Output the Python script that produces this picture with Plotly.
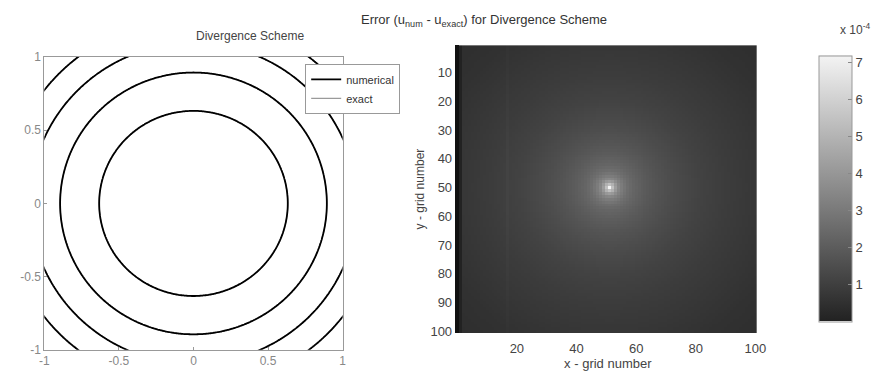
import numpy as np
import plotly.graph_objects as go

# ---- data ----
# left panel: contour levels of u (levels where circles appear, u = r^2)
contour_levels = [0.4, 0.8, 1.2, 1.6]
axis_ticks = [-1, -0.5, 0, 0.5, 1]
axis_ticktext = ["-1", "-0.5", "0", "0.5", "1"]

# right panel: radial profile of the error (distance from centre in grid cells -> error)
err_radius = [0, 1, 2, 3, 4, 6, 8, 12, 16, 20, 25, 30, 35, 40, 50, 60, 72]
err_value = [7.2, 5.4, 4.2, 3.5, 3.1, 2.6, 2.3, 1.95, 1.7, 1.5, 1.3, 1.12, 1.0, 0.88, 0.7, 0.52, 0.4]  # x 1e-4
err_center = (51, 50)
n_grid = 100
bright_column = 17
cb_ticks = [1, 2, 3, 4, 5, 6, 7]
x_ticks = [20, 40, 60, 80, 100]
y_ticks = [10, 20, 30, 40, 50, 60, 70, 80, 90, 100]

# ---- build fields ----
g = np.linspace(-1.05, 1.05, 211)
GX, GY = np.meshgrid(g, g)
u_field = GX**2 + GY**2

cols = np.arange(1, n_grid + 1)
CX, CY = np.meshgrid(cols, cols)
dist = np.sqrt((CX - err_center[0])**2 + (CY - err_center[1])**2)
err = np.interp(dist, err_radius, err_value) * 1e-4
err[:, bright_column - 1] *= 1.12
err[:, 0] = 0.0

fig = go.Figure()

W, H = 887, 377
def fx(p): return p / W
def fy(p): return 1 - p / H

common_contour = dict(x=g, y=g, z=u_field, showscale=False,
                      contours=dict(start=contour_levels[0], end=contour_levels[-1],
                                    size=contour_levels[1] - contour_levels[0], coloring="none"),
                      xaxis="x", yaxis="y", hoverinfo="skip", showlegend=True)
fig.add_trace(go.Contour(name="exact", line=dict(color="#9a9a9a", width=1.2), **common_contour))
fig.add_trace(go.Contour(name="numerical", line=dict(color="black", width=1.8), **common_contour))

fig.add_trace(go.Heatmap(z=err, x=cols, y=cols, xaxis="x2", yaxis="y2",
                         zmin=0, zmax=7.2e-4,
                         colorscale=[[0, "#222222"], [1, "#f4f4f4"]],
                         showlegend=False,
                         colorbar=dict(x=fx(817), xanchor="left", thickness=33,
                                       len=(337 - 40) / H, lenmode="fraction",
                                       y=fy(188.5), yanchor="middle",
                                       tickvals=[t * 1e-4 for t in cb_ticks],
                                       ticktext=[str(t) for t in cb_ticks],
                                       ticks="inside", ticklen=4, tickcolor="#888",
                                       outlinecolor="#999", outlinewidth=1,
                                       tickfont=dict(size=13, color="#444",
                                                     family="Liberation Sans, Arial"))))

axis_font = dict(size=12, color="#888", family="Liberation Sans, Arial")
right_font = dict(size=13, color="#444", family="Liberation Sans, Arial")
fig.update_layout(
    width=W, height=H, margin=dict(l=0, r=0, t=0, b=0),
    paper_bgcolor="white", plot_bgcolor="white",
    xaxis=dict(domain=[fx(40), fx(343)], range=[-1, 1], tickvals=axis_ticks, ticktext=axis_ticktext,
               anchor="y", showgrid=False, zeroline=False, showline=True, mirror=True, linecolor="#999",
               ticks="inside", ticklen=3, tickcolor="#999", tickfont=axis_font),
    yaxis=dict(domain=[fy(356), fy(52)], range=[-1, 1], tickvals=axis_ticks, ticktext=axis_ticktext,
               anchor="x", showgrid=False, zeroline=False, showline=True, mirror=True, linecolor="#999",
               ticks="inside", ticklen=3, tickcolor="#999", tickfont=axis_font),
    xaxis2=dict(domain=[fx(461), fx(764)], range=[0.5, 100.5], tickvals=x_ticks, anchor="y2",
                showgrid=False, zeroline=False, showline=False, ticks="", ticklabelstandoff=6,
                tickfont=right_font,
                title=dict(text="x - grid number", standoff=2, font=right_font)),
    yaxis2=dict(domain=[fy(338.5), fy(39.6)], range=[100.5, 0.5], tickvals=y_ticks, anchor="x2",
                showgrid=False, zeroline=False, showline=True, linecolor="#111", linewidth=4,
                ticks="",
                tickfont=right_font,
                title=dict(text="y - grid number", standoff=4,
                           font=dict(size=12, color="#444", family="Liberation Sans, Arial"))),
    legend=dict(x=fx(305), y=fy(59), xanchor="left", yanchor="top", traceorder="reversed",
                bgcolor="white", bordercolor="#999", borderwidth=1,
                font=dict(size=11, color="#333", family="Liberation Sans, Arial"),
                itemwidth=30, tracegroupgap=0),
    annotations=[
        dict(text="Divergence Scheme", x=fx(192), y=fy(30), xref="paper", yref="paper",
             yanchor="middle", showarrow=False,
             font=dict(size=12, color="#444", family="Liberation Sans, Arial")),
        dict(text="Error (u<sub>num</sub> - u<sub>exact</sub>) for Divergence Scheme",
             x=fx(614), y=fy(14), xref="paper", yref="paper", yanchor="middle", showarrow=False,
             font=dict(size=13, color="#333", family="Liberation Sans, Arial")),
        dict(text="x 10<sup>-4</sup>", x=fx(846), y=fy(23), xref="paper", yref="paper",
             xanchor="left", yanchor="middle", showarrow=False,
             font=dict(size=12, color="#444", family="Liberation Sans, Arial")),
    ],
)

fig.write_html("out.html")
